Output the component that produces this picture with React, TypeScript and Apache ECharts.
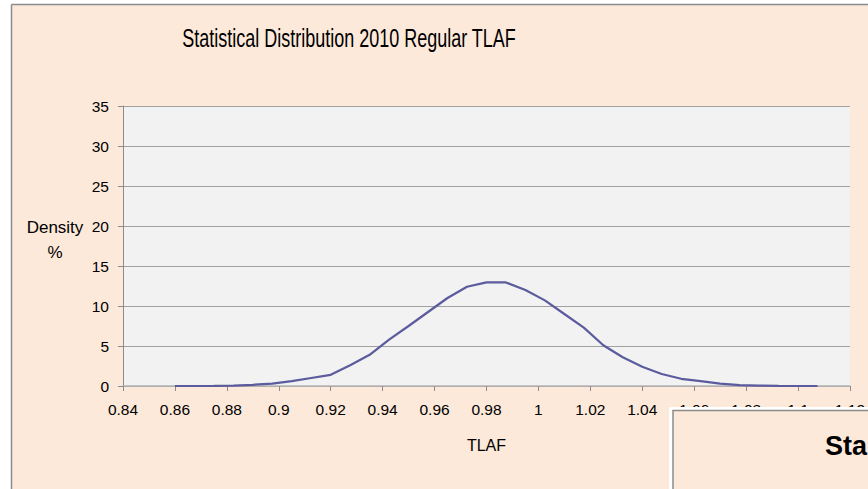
import React, { useEffect, useRef } from "react";
import * as echarts from "echarts";

const titleText = "Statistical Distribution 2010 Regular TLAF";
const xAxisName = "TLAF";
const yAxisName = "Density\n%";
const overlayTitle = "Sta";

const tlaf = [
  0.86, 0.8675, 0.875, 0.8825, 0.89, 0.8975, 0.905, 0.9125, 0.92, 0.9275,
  0.935, 0.9425, 0.95, 0.9575, 0.965, 0.9725, 0.98, 0.9875, 0.995, 1.0025,
  1.01, 1.0175, 1.025, 1.0325, 1.04, 1.0475, 1.055, 1.0625, 1.07, 1.0775,
  1.085, 1.0925, 1.1, 1.1075,
];
const density = [
  0, 0, 0.01, 0.05, 0.15, 0.3, 0.6, 1.0, 1.4, 2.6,
  3.9, 5.8, 7.5, 9.25, 11.0, 12.4, 12.95, 12.95, 12.0, 10.7,
  9.0, 7.3, 5.1, 3.6, 2.4, 1.5, 0.9, 0.6, 0.3, 0.1,
  0.05, 0.02, 0, 0,
];

const xMin = 0.84;
const xMax = 1.12;
const xStep = 0.02;
const yMin = 0;
const yMax = 35;
const yStep = 5;

const BEIGE = "#FDE9D9";
const FONT = "'Liberation Sans', Arial, sans-serif";

export default function App() {
  const ref = useRef<HTMLDivElement>(null);
  useEffect(() => {
    if (!ref.current) return;
    const chart = echarts.init(ref.current, undefined, { renderer: "svg" });
    chart.setOption({
      animation: false,
      backgroundColor: BEIGE,
      grid: {
        left: 123,
        right: 18,
        top: 106,
        bottom: 103,
        show: true,
        backgroundColor: "#F2F2F2",
        borderWidth: 0,
      },
      xAxis: {
        type: "value",
        min: xMin,
        max: xMax,
        interval: xStep,
        name: xAxisName,
        nameLocation: "middle",
        nameGap: 51,
        nameTextStyle: { fontFamily: FONT, fontSize: 16, color: "#000" },
        axisLine: { show: true, onZero: false, lineStyle: { color: "#B4B4B4", width: 1.5 } },
        axisTick: { show: true, length: 5, lineStyle: { color: "#8C8C8C" } },
        axisLabel: {
          fontFamily: FONT,
          fontSize: 15.5,
          color: "#000",
          margin: 15,
          formatter: (v: number) => String(parseFloat(v.toFixed(4))),
        },
        splitLine: { show: false },
      },
      yAxis: {
        type: "value",
        min: yMin,
        max: yMax,
        interval: yStep,
        axisLine: { show: true, lineStyle: { color: "#8C8C8C" } },
        axisTick: { show: true, length: 5, lineStyle: { color: "#8C8C8C" } },
        axisLabel: {
          fontFamily: FONT,
          fontSize: 15.5,
          color: "#000",
          margin: 14,
        },
        splitLine: { show: true, lineStyle: { color: "#A0A0A0", width: 1.2 } },
      },
      series: [
        {
          type: "line",
          data: tlaf.map((x, i) => [x, density[i]]),
          showSymbol: false,
          smooth: false,
          lineStyle: { color: "#5B5B9E", width: 2.2 },
          z: 5,
        },
      ],
      graphic: [
        { type: "rect", shape: { x: 0, y: 0, width: 868, height: 4 }, style: { fill: "#FFFFFF" }, z: 1 },
        { type: "rect", shape: { x: 0, y: 0, width: 11, height: 489 }, style: { fill: "#FFFFFF" }, z: 1 },
        { type: "line", shape: { x1: 11.5, y1: 4.5, x2: 868, y2: 4.5 }, style: { stroke: "#8C8C8C", lineWidth: 1.5 }, z: 1 },
        { type: "line", shape: { x1: 11.5, y1: 4.5, x2: 11.5, y2: 489 }, style: { stroke: "#8C8C8C", lineWidth: 1.5 }, z: 1 },
        {
          type: "text",
          x: 349,
          y: 38,
          scaleX: 0.72,
          scaleY: 1,
          style: {
            text: titleText,
            fontFamily: FONT,
            fontSize: 25,
            fill: "#000",
            textAlign: "center",
            textVerticalAlign: "middle",
          },
          z: 1,
        },
        {
          type: "text",
          x: 55,
          y: 240,
          style: {
            text: yAxisName,
            fontFamily: FONT,
            fontSize: 17,
            lineHeight: 25,
            fill: "#000",
            textAlign: "center",
            textVerticalAlign: "middle",
          },
          z: 1,
        },
        { type: "rect", shape: { x: 669, y: 407, width: 300, height: 200 }, style: { fill: "#FFFFFF" }, z: 100 },
        {
          type: "rect",
          shape: { x: 673, y: 410.5, width: 300, height: 200 },
          style: { fill: BEIGE, stroke: "#8C8C8C", lineWidth: 1.5 },
          z: 101,
        },
        {
          type: "text",
          x: 825,
          y: 446,
          style: {
            text: overlayTitle,
            fontFamily: FONT,
            fontSize: 27,
            fontWeight: "bold",
            fill: "#000",
            textAlign: "left",
            textVerticalAlign: "middle",
          },
          z: 102,
        },
      ],
    });
    return () => chart.dispose();
  }, []);
  return (
    <div
      ref={ref}
      style={{ position: "absolute", left: 0, top: 0, width: 868, height: 489 }}
    />
  );
}
